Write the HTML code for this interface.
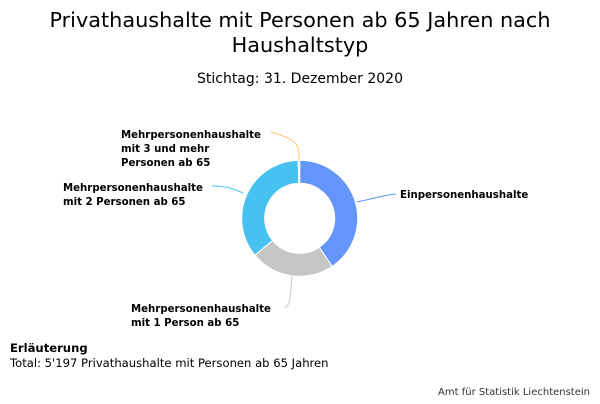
<!DOCTYPE html>
<html><head><meta charset="utf-8"><style>
body{margin:0;width:600px;height:400px;background:#fff;overflow:hidden;font-family:"DejaVu Sans",sans-serif}
</style></head><body>
<svg width="600" height="400" xmlns="http://www.w3.org/2000/svg" font-family="DejaVu Sans, sans-serif">
<text x="300" y="27" font-size="20.8" text-anchor="middle" fill="#000">Privathaushalte mit Personen ab 65 Jahren nach</text>
<text x="300" y="52" font-size="20.8" text-anchor="middle" fill="#000">Haushaltstyp</text>
<text x="300" y="83" font-size="14" text-anchor="middle" fill="#000">Stichtag: 31. Dezember 2020</text>
<g id="d"></g>
<path d="M357,202 C375,198 385,195 396,194" stroke="#6495fa" fill="none"/>
<path d="M243,193 C230,187 222,186 212,186" stroke="#45c2f0" fill="none"/>
<path d="M292,276 C290,300 290,305 285,308" stroke="#c8c8c8" fill="none"/>
<path d="M299,160 C299,145 299,140 271,132" stroke="#f5c96a" fill="none"/>
<g font-size="10.2" font-weight="bold" fill="#000">
<text x="400" y="198">Einpersonenhaushalte</text>
<text x="63" y="191">Mehrpersonenhaushalte</text>
<text x="63" y="205">mit 2 Personen ab 65</text>
<text x="131" y="312">Mehrpersonenhaushalte</text>
<text x="131" y="326">mit 1 Person ab 65</text>
<text x="121" y="138">Mehrpersonenhaushalte</text>
<text x="121" y="152">mit 3 und mehr</text>
<text x="121" y="166">Personen ab 65</text>
</g>
<text x="10" y="352" font-size="11.6" font-weight="bold">Erläuterung</text>
<text x="10" y="367" font-size="11.6">Total: 5'197 Privathaushalte mit Personen ab 65 Jahren</text>
<text x="590" y="395" font-size="10" text-anchor="end" fill="#333">Amt für Statistik Liechtenstein</text>
</svg>
<script>
var cx=299.7,cy=218.3,R=58,r=35,segs=[[0,146,"#6495fa"],[146,230.6,"#c6c6c6"],[230.6,358.5,"#45c2f0"],[358.5,360,"#f5c96a"]];
function p(a,rad){a=a*Math.PI/180;return (cx+rad*Math.sin(a)).toFixed(2)+","+(cy-rad*Math.cos(a)).toFixed(2);}
var h="";segs.forEach(function(s){var l=(s[1]-s[0])>180?1:0;
h+='<path d="M'+p(s[0],R)+' A'+R+','+R+' 0 '+l+' 1 '+p(s[1],R)+' L'+p(s[1],r)+' A'+r+','+r+' 0 '+l+' 0 '+p(s[0],r)+' Z" fill="'+s[2]+'" stroke="#fff" stroke-width="1"/>';});
document.getElementById("d").innerHTML=h;
</script>
</body></html>
